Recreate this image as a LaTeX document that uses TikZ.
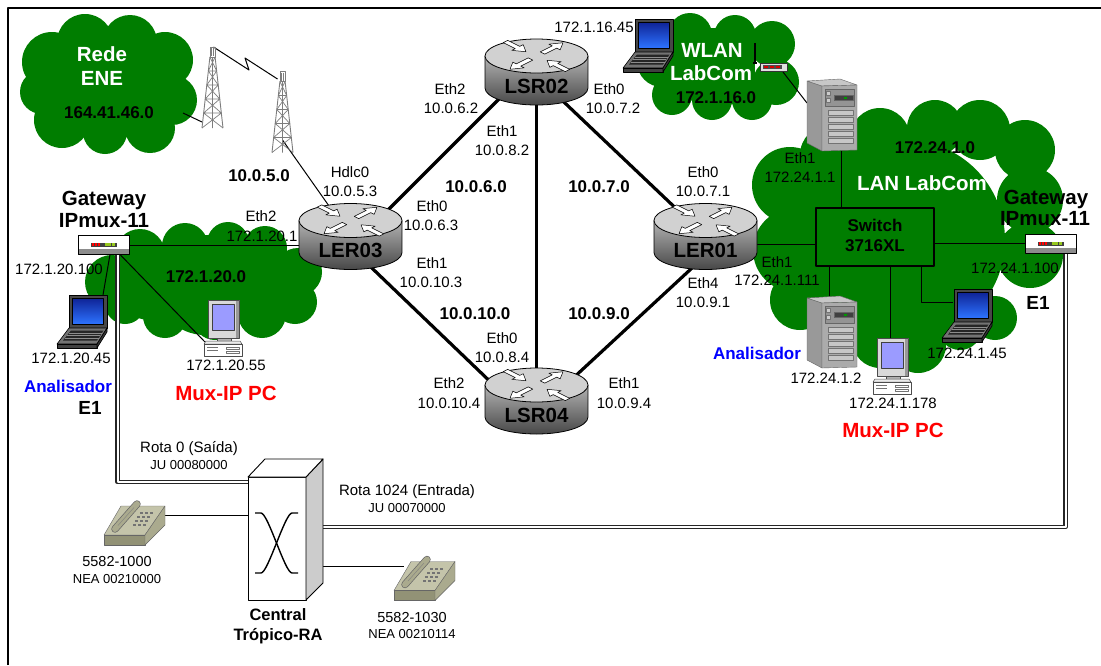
\documentclass[tikz,border=0pt]{standalone}
\usepackage{fontspec}
\setmainfont{Liberation Sans}
\usetikzlibrary{calc}

\definecolor{cloudgreen}{RGB}{0,125,0}
\definecolor{scrtop}{RGB}{15,35,150}
\definecolor{scrbot}{RGB}{45,115,255}
\definecolor{lavender}{RGB}{155,155,255}
\definecolor{phonetop}{RGB}{196,196,170}
\definecolor{phonefront}{RGB}{146,146,118}
\definecolor{phoneside}{RGB}{170,170,142}
\definecolor{towergray}{RGB}{125,125,125}
\definecolor{ledgreen}{RGB}{150,200,30}
\definecolor{anblue}{RGB}{0,0,255}
\definecolor{muxred}{RGB}{255,0,0}

% white arrow on the top face of a router
\newcommand{\routerarrow}[3]{%
  \filldraw[fill=white, draw=black, line width=0.5pt, shift={(#1,#2)}, rotate=#3]
    (0,-3.2) -- (17,-3.2) -- (17,-8) -- (29,0) -- (17,8) -- (17,3.2) -- (0,3.2) -- cycle;}

\tikzset{
  lbl/.style={inner sep=0pt, text height=10.7pt, text depth=0pt, font=\fontsize{15}{17}\selectfont},
  sml/.style={inner sep=0pt, text height=9.3pt, text depth=0pt, font=\fontsize{13}{15}\selectfont},
  mdl/.style={inner sep=0pt, text height=10.4pt, text depth=0pt, font=\fontsize{14.5}{16}\selectfont},
  net/.style={inner sep=0pt, text height=12.2pt, text depth=0pt, font=\bfseries\fontsize{17}{19}\selectfont},
  big/.style={inner sep=0pt, text height=14.7pt, text depth=0pt, font=\bfseries\fontsize{20.5}{23}\selectfont},
  sub/.style={inner sep=0pt, text height=13.6pt, text depth=0pt, font=\bfseries\fontsize{19}{21}\selectfont},
  ctr/.style={inner sep=0pt, text height=11.8pt, text depth=0pt, font=\bfseries\fontsize{16.5}{19}\selectfont},
  box/.style 2 args={inner sep=0pt, outer sep=0pt, minimum width=#1pt, minimum height=#2pt},
  link/.style={line width=3.2pt, black},
  wire/.style={line width=1pt, black},
  trunk/.style={draw=black!85, line width=1.2pt, double=white, double distance=2pt},
  pics/router/.style={code={
    \shade[top color=black!30, bottom color=black!72]
      (-51.5,-16) -- (-51.5,16) arc[start angle=180, end angle=0, x radius=51.5, y radius=17] -- (51.5,-16) -- cycle;
    \draw[line width=0.8pt]
      (-51.5,-16) -- (-51.5,16) arc[start angle=180, end angle=0, x radius=51.5, y radius=17] -- (51.5,-16);
    \filldraw[fill=black!18, line width=0.8pt] (0,-16) ellipse[x radius=51.5, y radius=17];
    \begin{scope}[shift={(0,-16)}, yscale=0.5]
      \routerarrow{-31}{-29}{-45}
      \routerarrow{31}{29}{135}
      \routerarrow{6}{-6}{45}
      \routerarrow{-6}{6}{-135}
    \end{scope}
  }},
  pics/laptop/.style={code={
    \filldraw[fill=black!72, draw=black, line width=0.6pt] (12,0) rectangle (50,33);
    \shade[top color=scrtop, bottom color=scrbot] (15.5,3) rectangle (46.5,29);
    \draw[black, line width=0.4pt] (15.5,3) rectangle (46.5,29);
    \filldraw[fill=black!55, draw=black, line width=0.6pt] (12,33) -- (50,33) -- (40,49) -- (0,49) -- cycle;
    \filldraw[fill=black!75, draw=black, line width=0.6pt] (0,49) -- (40,49) -- (40,53) -- (0,53) -- cycle;
    \filldraw[fill=black!80, draw=black, line width=0.6pt] (40,49) -- (50,33) -- (50,37) -- (40,53) -- cycle;
    \fill[black!85] (14,35.5) -- (46.5,35.5) -- (40,45.5) -- (6,45.5) -- cycle;
    \draw[black!45, line width=0.3pt] (12,38) -- (44.8,38) (10,40.5) -- (43.2,40.5) (8,43) -- (41.6,43);
  }},
  pics/muxpc/.style={code={
    \filldraw[fill=black!15, draw=black!70, line width=0.5pt] (4.5,0) rectangle (35.5,38);
    \fill[black!40] (31.5,1) rectangle (35,37.5);
    \filldraw[fill=lavender, draw=black!75, line width=0.5pt] (8.5,4) rectangle (30,30);
    \filldraw[fill=black!30, draw=black!70, line width=0.5pt] (13,38) rectangle (27,41);
    \filldraw[fill=black!8, draw=black!70, line width=0.5pt] (2,41) -- (36,41) -- (38,44) -- (0,44) -- cycle;
    \filldraw[fill=white, draw=black!70, line width=0.5pt] (0,44) rectangle (38,56);
    \draw[black!55, line width=0.4pt] (3,47) -- (14,47) (3,50) -- (14,50)
      (22,47) rectangle (35,49.5) (22,51) rectangle (35,53.5);
  }},
  pics/server/.style={code={
    \filldraw[fill=black!40, draw=black!60, line width=0.4pt] (0,2) -- (15,7) -- (15,72) -- (0,64) -- cycle;
    \filldraw[fill=black!22, draw=black!60, line width=0.4pt] (0,2) -- (33,0) -- (50,6) -- (15,7) -- cycle;
    \filldraw[fill=black!33, draw=black!60, line width=0.4pt] (15,7) -- (50,6) -- (50,71) -- (15,72) -- cycle;
    \filldraw[fill=black!42, draw=black!60, line width=0.3pt] (18,10) rectangle (47,27);
    \filldraw[fill=black!20, draw=black!55, line width=0.3pt] (19.5,12) rectangle (23.5,16) (19.5,19) rectangle (23.5,23);
    \filldraw[fill=black!75, draw=black!60, line width=0.3pt] (27,16.5) rectangle (46,21.5);
    \fill[green!60!black] (37,18) rectangle (39.5,20);
    \foreach \k in {0,...,4} {
      \filldraw[fill=black!22, draw=black!55, line width=0.3pt] (21,{31+7*\k}) rectangle (46,{36+7*\k});
    }
  }},
  pics/gateway/.style={code={
    \fill[white] (0,0) rectangle (51,19);
    \fill[black!45] (0,13) rectangle (51,19);
    \draw[line width=0.7pt] (0,0) rectangle (51,19);
    \fill[black!75] (12.5,7) rectangle (38.5,11);
    \foreach \k in {0,1,2} {\fill[red] ({13.5+3.2*\k},7.8) rectangle ({15.7+3.2*\k},10.2);}
    \foreach \k in {0,1,2} {\fill[ledgreen] ({26.5+3.9*\k},7.8) rectangle ({29.5+3.9*\k},10.2);}
  }},
  pics/accesspoint/.style={code={
    \draw[line width=1.3pt] (-5,0) -- (-5,-20);
    \fill (-7,-1) rectangle (-3,0.5);
    \filldraw[fill=black!12, draw=black!80, line width=0.6pt] (0,0) rectangle (27,8);
    \fill[black!70] (3,2.3) rectangle (22,5.7);
    \foreach \k in {0,1,2} {\fill[red!85!black] ({4+6*\k},3) rectangle ({8+6*\k},5);}
  }},
  pics/phone/.style={code={
    \filldraw[fill=phonetop, draw=black!60, line width=0.4pt] (0,36) -- (17,7) -- (61,7) -- (41,36) -- cycle;
    \filldraw[fill=phonefront, draw=black!60, line width=0.4pt] (0,36) rectangle (41,46);
    \filldraw[fill=phoneside, draw=black!60, line width=0.4pt] (41,36) -- (61,7) -- (61,26) -- (41,46) -- cycle;
    \foreach \r in {0,...,3} {\foreach \c in {0,1,2} {
      \fill[black!55] ({22+(24-4*\r)*0.567+5*\c},{13+4*\r}) rectangle ++(3,2);
    }}
    \draw[black!60, line width=7.4pt, line cap=round] (11,30) -- (33,5);
    \draw[phoneside, line width=6pt, line cap=round] (11,30) -- (33,5);
    \draw[black!50, line width=0.4pt] (14,26.5) -- (30,8.5);
  }},
  pics/tower/.style={code={
    \begin{scope}[towergray, line width=0.7pt]
      \draw (-2.6,0) rectangle (2.6,10);
      \draw (-1,1) -- (-1,9) (1,1) -- (1,9);
      \draw[line width=0.9pt] (-2.6,10) -- (-10.5,81) (2.6,10) -- (10.5,81) (0,10) -- (0,81);
      \draw (-2.6,10) -- (4.2,24) (2.6,10) -- (-4.2,24) (-4.2,24) -- (4.2,24)
        (-4.2,24) -- (5.7,38) (4.2,24) -- (-5.7,38) (-5.7,38) -- (5.7,38)
        (-5.7,38) -- (7.3,52) (5.7,38) -- (-7.3,52) (-7.3,52) -- (7.3,52)
        (-7.3,52) -- (8.9,66) (7.3,52) -- (-8.9,66) (-8.9,66) -- (8.9,66)
        (-8.9,66) -- (10.5,81) (8.9,66) -- (-10.5,81);
    \end{scope}
  }},
}

\begin{document}
\begin{tikzpicture}[x=1pt, y=-1pt, line join=round]
\useasboundingbox (0,0) rectangle (1101,665);

% page frame
\draw[line width=2pt] (8,665) -- (8,8) -- (1101,8);

% ---------- network clouds ----------
\fill[cloudgreen] (52,62) circle[radius=30] (85,42) circle[radius=28] (130,42) circle[radius=27]
  (165,60) circle[radius=28] (172,100) circle[radius=25] (150,128) circle[radius=25]
  (105,132) circle[radius=22] (62,120) circle[radius=28] (42,92) circle[radius=22]
  (107,85) circle[radius=55];
\fill[cloudgreen] (662,62) circle[radius=25] (690,35) circle[radius=22] (735,36) circle[radius=21]
  (772,44) circle[radius=23] (776,82) circle[radius=23] (752,100) circle[radius=20]
  (712,100) circle[radius=20] (672,95) circle[radius=20] (715,68) circle[radius=40];
\fill[cloudgreen] (112,282) circle[radius=27] (140,254) circle[radius=25] (185,246) circle[radius=23]
  (228,243) circle[radius=21] (265,248) circle[radius=22] (298,272) circle[radius=24]
  (295,302) circle[radius=22] (262,314) circle[radius=24] (215,318) circle[radius=22]
  (165,316) circle[radius=22] (125,304) circle[radius=20] (205,285) circle[radius=50]
  (150,285) circle[radius=35] (260,285) circle[radius=35];
\fill[cloudgreen] (790,185) circle[radius=38] (795,250) circle[radius=42] (800,300) circle[radius=30]
  (845,330) circle[radius=25] (880,340) circle[radius=28] (918,345) circle[radius=28]
  (960,328) circle[radius=22] (995,318) circle[radius=22] (1030,255) circle[radius=33]
  (1030,200) circle[radius=33] (1025,150) circle[radius=30] (980,130) circle[radius=30]
  (935,128) circle[radius=28] (880,138) circle[radius=30] (830,155) circle[radius=30]
  (905,240) circle[radius=100];

% ---------- device anchors ----------
\node[box={21}{81}] (tw1) at (212.5,87.5) {};
\node[box={21}{81}] (tw2) at (282.5,112) {};
\node[box={51}{19}] (gwL) at (103.5,245) {};
\node[box={103}{66}] (LER03) at (350.5,236.5) {};
\node[box={103}{66}] (LSR02) at (536.5,72) {};
\node[box={103}{66}] (LER01) at (705.5,236.5) {};
\node[box={103}{66}] (LSR04) at (536.5,401) {};
\node[box={50}{54}] (lapL) at (82,322) {};
\node[box={38}{56}] (pcL) at (223,328) {};
\node[box={50}{54}] (lapW) at (648,46) {};
\node[box={27}{8}] (ap) at (773.5,67) {};
\node[box={50}{72}] (srv1) at (832,115) {};
\node[box={50}{72}] (srv2) at (832,332) {};
\node[box={38}{56}] (pcR) at (892,366) {};
\node[box={50}{54}] (lapR) at (967,316) {};
\node[box={51}{19}] (gwR) at (1050.5,244) {};
\node[box={75}{141}] (cen) at (285.5,529.5) {};
\node[box={61}{47}] (ph1) at (134.5,522.5) {};
\node[box={61}{47}] (ph2) at (424.5,578) {};
\coordinate (enePort) at (183,113);

% ---------- connectors ----------
\draw[link] ($(LER03.center)+(0,11)$) -- ($(LSR02.center)+(0,-10.5)$);
\draw[link] ($(LSR02.center)+(0,4)$) -- (LER01.center);
\draw[link] (LSR02.center) -- (LSR04.center);
\draw[link] ($(LER03.center)+(0,11)$) -- ($(LSR04.center)+(0,25)$);
\draw[link] ($(LER01.center)+(0,19)$) -- ($(LSR04.center)+(0,11)$);

\draw[wire] (enePort) -- ($(tw1.south west)+(0,-6)$);
\draw[wire] ($(tw1.north)+(1,0)$) -- (249,70) -- (245,58) -- ($(tw2.north)+(-5,7.5)$);
\draw[wire] ($(tw2.center)+(0,28)$) -- (LER03.center);
\draw[wire] (gwL.east) -- (LER03.center |- gwL.east);
\draw[wire] ($(gwL.south)+(6.5,0)$) -- ($(lapL.north east)+(-4,0)$);
\draw[wire] ($(gwL.south)+(16.5,0)$) -- ($(pcL.south west)+(1,-14)$);
\draw[wire] ($(ap.south east)+(-4,1)$) -- ($(srv1.west)+(0,-12)$);
\draw[wire] ($(srv1.south)+(9,0)$) -- (841,208);
\draw[wire] ($(LER01.center)+(0,7.5)$) -- (816,244);
\draw[wire] (934,243) -- ($(gwR.west)+(0,-1)$);
\draw[wire] (829,266) -- ($(srv2.north)+(-3,0)$);
\draw[wire] (890,266) -- ($(pcR.north)+(-2,0)$);
\draw[wire] (921,266) |- ($(lapR.west)+(11,-14)$);
\draw[wire] ($(ph1.east)+(0,-7.5)$) -- ($(cen.west)+(0,-14.5)$);
\draw[wire] ($(cen.east)+(0,37.2)$) -- ($(ph2.west)+(10,-11.3)$);

\draw[trunk] ($(gwL.south)+(14,0)$) |- ($(cen.west)+(0,-47.5)$);
\draw[trunk] ($(cen.east)+(0,-2.5)$) -| ($(gwR.south)+(15,0)$);

% switch
\node[draw, line width=2.2pt, fill=cloudgreen, box={118}{58}] (sw) at (875,237) {};

% ---------- interface and address labels ----------
\node[lbl] (hdlc) at (350,172) {Hdlc0};
\node[lbl] (hdlcip) at (350,191) {10.0.5.3};
\node[lbl] (e2a) at (261,216) {Eth2};
\node[lbl] (e2aip) at (262,236) {172.1.20.1};
\node[lbl] (e0a) at (432,206) {Eth0};
\node[lbl] (e0aip) at (431,225) {10.0.6.3};
\node[lbl] (e1a) at (432,263) {Eth1};
\node[lbl] (e1aip) at (431,282) {10.0.10.3};
\node[lbl] (e2b) at (450,89) {Eth2};
\node[lbl] (e2bip) at (451,108) {10.0.6.2};
\node[lbl] (e1b) at (502,131) {Eth1};
\node[lbl] (e1bip) at (502,150) {10.0.8.2};
\node[lbl] (e0b) at (609,89) {Eth0};
\node[lbl] (e0bip) at (613,108) {10.0.7.2};
\node[lbl] (e0c) at (703,172) {Eth0};
\node[lbl] (e0cip) at (703,191) {10.0.7.1};
\node[lbl] (e4c) at (703,283) {Eth4};
\node[lbl] (e4cip) at (703,302) {10.0.9.1};
\node[lbl] (e0d) at (502,338) {Eth0};
\node[lbl] (e0dip) at (502,357) {10.0.8.4};
\node[lbl] (e2d) at (449,383) {Eth2};
\node[lbl] (e2dip) at (449,403) {10.0.10.4};
\node[lbl] (e1d) at (624,383) {Eth1};
\node[lbl] (e1dip) at (624,403) {10.0.9.4};
\node[lbl] (wlanpc) at (594,27) {172.1.16.45};
\node[lbl] (e1s) at (800,158) {Eth1};
\node[lbl] (e1sip) at (800,177) {172.24.1.1};
\node[lbl] (e1r) at (777,262) {Eth1};
\node[lbl] (e1rip) at (777,280) {172.24.1.111};
\node[lbl] (gwRip) at (1015,268) {172.24.1.100};
\node[lbl] (lapRip) at (967,353) {172.24.1.45};
\node[lbl] (srv2ip) at (826,378) {172.24.1.2};
\node[lbl] (pcRip) at (893,403) {172.24.1.178};
\node[lbl] (gwLip) at (59,269) {172.1.20.100};
\node[lbl] (lapLip) at (71,358) {172.1.20.45};
\node[lbl] (pcLip) at (226,365) {172.1.20.55};
\node[lbl] (rt0) at (189,447) {Rota 0 (Saída)};
\node[sml] (rt0ju) at (189,464.5) {JU 00080000};
\node[lbl] (rt1) at (407,490) {Rota 1024 (Entrada)};
\node[sml] (rt1ju) at (407,507.5) {JU 00070000};
\node[mdl] (ph1num) at (117,561) {5582-1000};
\node[sml] (ph1nea) at (117,578.5) {NEA 00210000};
\node[mdl] (ph2num) at (412,617) {5582-1030};
\node[sml] (ph2nea) at (412,633.5) {NEA 00210114};

% ---------- network names ----------
\node[net] (n5) at (259,175) {10.0.5.0};
\node[net] (n6) at (476,186) {10.0.6.0};
\node[net] (n7) at (599,186) {10.0.7.0};
\node[net] (n10) at (475,313) {10.0.10.0};
\node[net] (n9) at (599,313) {10.0.9.0};
\node[net] (n20) at (206,276) {172.1.20.0};
\node[net] (n24) at (935,147) {172.24.1.0};
\node[net] (n16) at (716,97) {172.1.16.0};
\node[net] (n164) at (109,112) {164.41.46.0};
\node[big, white] (rede) at (102,54) {Rede};
\node[big, white] (ene) at (102,78) {ENE};
\node[big, white] (wlan) at (712,50) {WLAN};
\node[big, white] (labcom) at (711,73) {LabCom};
\node[big, white] (lan) at (922,183) {LAN LabCom};
\node[big] (gwLt1) at (104,198) {Gateway};
\node[big] (gwLt2) at (104,220) {IPmux-11};
\node[big] (gwRt1) at (1046,197) {Gateway};
\node[big] (gwRt2) at (1045,218) {IPmux-11};
\node[sub] (e1L) at (90,408) {E1};
\node[sub] (e1R) at (1038,303) {E1};
\node[net, anblue] (anL) at (68,386) {Analisador};
\node[net, anblue] (anR) at (757,353) {Analisador};
\node[big, muxred] (muxL) at (226,393) {Mux-IP PC};
\node[big, muxred] (muxR) at (893,430) {Mux-IP PC};
\node[net] (swt1) at (875,225) {Switch};
\node[net] (swt2) at (875,245) {3716XL};
\node[ctr] (cent1) at (278,615) {Central};
\node[ctr] (cent2) at (278,635) {Trópico-RA};

% ---------- devices ----------
\pic at (tw1.north) {tower};
\pic at (tw2.north) {tower};
\pic at (LER03.center) {router};
\pic at (LSR02.center) {router};
\pic at (LER01.center) {router};
\pic at (LSR04.center) {router};
\node[big] (tLER03) at ($(LER03.center)+(0,14)$) {LER03};
\node[big] (tLSR02) at ($(LSR02.center)+(0,14)$) {LSR02};
\node[big] (tLER01) at ($(LER01.center)+(0,14)$) {LER01};
\node[big] (tLSR04) at ($(LSR04.center)+(0,14)$) {LSR04};
\pic at (gwL.north west) {gateway};
\pic at (gwR.north west) {gateway};
\pic at (lapL.north west) {laptop};
\pic at (lapW.north west) {laptop};
\pic at (lapR.north west) {laptop};
\pic at (pcL.north west) {muxpc};
\pic at (pcR.north west) {muxpc};
\pic at (srv1.north west) {server};
\pic at (srv2.north west) {server};
\pic at (ap.north west) {accesspoint};
\pic at (ph1.north west) {phone};
\pic at (ph2.north west) {phone};

% switching exchange
\filldraw[fill=white, line width=0.9pt] (248,477) rectangle (306,600);
\filldraw[fill=black!20, line width=0.9pt] (306,477) -- (323,459) -- (323,583) -- (306,600) -- cycle;
\filldraw[fill=white, line width=0.9pt] (248,477) -- (265,459) -- (323,459) -- (306,477) -- cycle;
\draw[line width=1.4pt] (255,513) -- (261,513) .. controls (268,513) and (285,573) .. (292,573) -- (298,573);
\draw[line width=1.4pt] (255,573) -- (261,573) .. controls (268,573) and (285,513) .. (292,513) -- (298,513);
\end{tikzpicture}
\end{document}
